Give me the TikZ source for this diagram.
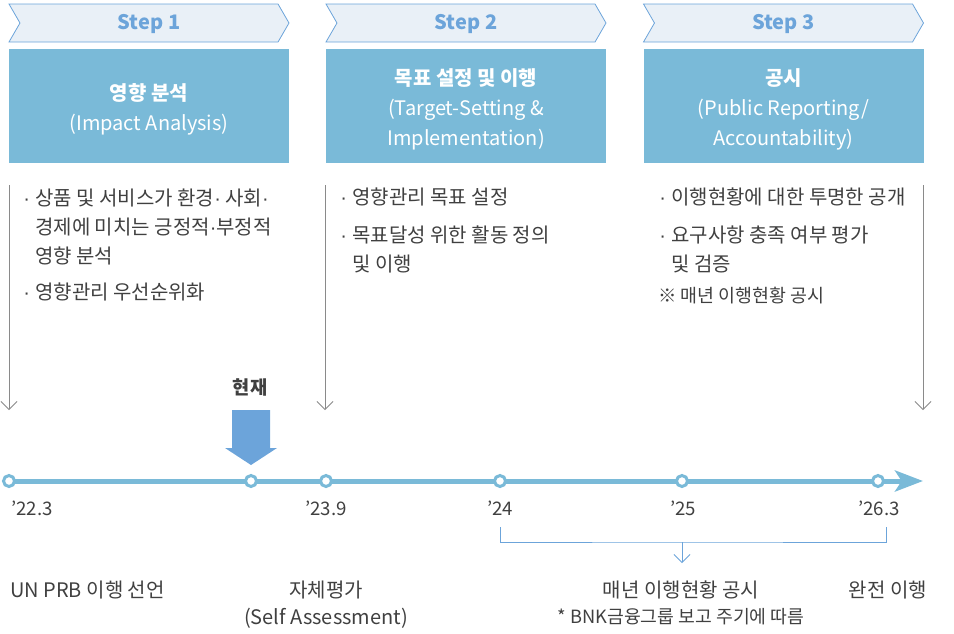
\documentclass[tikz,border=0pt]{standalone}
\usepackage{fontspec}
\setmainfont{Noto Sans CJK KR}
\newfontfamily\dotfont{Liberation Sans}
\usetikzlibrary{arrows.meta,shapes.symbols,backgrounds,positioning}
\definecolor{PRBBlue}{HTML}{7ABAD8}
\definecolor{PRBSky}{HTML}{6CA4DA}
\definecolor{PRBPale}{HTML}{E9F0F7}
\definecolor{PRBText}{HTML}{404040}
\definecolor{PRBGray}{HTML}{8A8A8A}
\newcommand{\md}{{\dotfont ·}}
\newcommand{\bul}{\makebox[9pt][l]{\md}}
\newcommand{\ind}{\hspace*{9pt}}

\begin{document}
\begin{tikzpicture}[
    x=0.75pt,y=-0.75pt,
    stepbar/.style={signal,signal from=west,signal to=east,signal pointer angle=120,
      draw=PRBSky,fill=PRBPale,line width=0.6pt,minimum width=210pt,
      minimum height=28.5pt,inner sep=0pt,text=PRBSky,text height=10pt,
      text depth=0pt,font=\fontsize{15}{18}\selectfont\bfseries},
    stagebox/.style={rectangle,fill=PRBBlue,minimum width=210pt,
      minimum height=85.5pt,inner sep=0pt},
    stagetext/.style={inner sep=0pt,align=center,text=white,yshift=-2.6pt,
      font=\fontsize{15}{22.5}\selectfont},
    item/.style={anchor=base west,inner sep=0pt,align=left,text=PRBText,
      font=\fontsize{15}{21.75}\selectfont},
    note/.style={anchor=base,inner sep=0pt,align=center,text=PRBText,
      font=\fontsize{15}{20}\selectfont},
    date/.style={anchor=base,inner sep=0pt,text=PRBText,
      font=\fontsize{14}{18}\selectfont},
    dot/.style={circle,draw=PRBBlue,line width=2.25pt,fill=white,
      minimum size=8.25pt,inner sep=0pt},
    flow/.style={-{Straight Barb[length=6pt,width=12pt]},color=PRBGray,line width=0.6pt},
    tline/.style={-{Stealth[length=21pt,width=15.75pt,inset=5pt]},color=PRBBlue,
      line width=3.75pt}
  ]
  \useasboundingbox (0,0) rectangle (954,633);

  % steps
  \node[stepbar] (s1) at (149,23) {Step 1};
  \node[stepbar] (s2) at (466,23) {Step 2};
  \node[stepbar] (s3) at (783.5,23) {Step 3};

  \node[stagebox] (b1) at (149,106) {};
  \node[stagebox] (b2) at (466,106) {};
  \node[stagebox] (b3) at (783.5,106) {};
  \node[stagetext] (b1t) at (b1) {\textbf{영향 분석}\\(Impact Analysis)};
  \node[stagetext] (b2t) at (b2)
    {\textbf{목표 설정 및 이행}\\(Target-Setting \&\\Implementation)};
  \node[stagetext] (b3t) at (b3) {\textbf{공시}\\(Public Reporting/\\Accountability)};

  \node[item] (i11) at (23,263)
    {\bul 상품 및 서비스가 환경\md{} 사회\md\\\ind 경제에 미치는 긍정적\md 부정적\\\ind 영향 분석};
  \node[item] (i12) at (23,299) {\bul 영향관리 우선순위화};
  \node[item] (i21) at (340,204) {\bul 영향관리 목표 설정};
  \node[item] (i22) at (340,271) {\bul 목표달성 위한 활동 정의\\\ind 및 이행};
  \node[item] (i31) at (659,204) {\bul 이행현황에 대한 투명한 공개};
  \node[item] (i32) at (659,271) {\bul 요구사항 충족 여부 평가\\\ind 및 검증};
  \node[item,font=\fontsize{13.8}{16}\selectfont] (i33) at (658,302)
    {※ 매년 이행현황 공시};

  \coordinate (f1a) at (9,185);   \coordinate (f1b) at (9,410);
  \coordinate (f2a) at (325,185); \coordinate (f2b) at (325,410);
  \coordinate (f3a) at (923,185); \coordinate (f3b) at (923,410);
  \draw[flow] (f1a) -- (f1b);
  \draw[flow] (f2a) -- (f2b);
  \draw[flow] (f3a) -- (f3b);

  % now marker
  \node[note,font=\fontsize{14}{16}\selectfont\bfseries] (now) at (250,394) {현재};
  \coordinate (nowtip) at (251,465);
  \fill[PRBSky] (232,410) -- (270,410) -- (270,448) -- (277,448) -- (nowtip)
    -- (225,448) -- (232,448) -- cycle;

  % timeline
  \node[dot] (t1) at (9,481) {};
  \node[dot] (t2) at (251,481) {};
  \node[dot] (t3) at (326,481) {};
  \node[dot] (t4) at (500,481) {};
  \node[dot] (t5) at (682,481) {};
  \node[dot] (t6) at (878,481) {};
  \coordinate (tend) at (923,481);
  \begin{scope}[on background layer]
    \draw[tline] (t1.center) -- (tend);
  \end{scope}

  \node[date,anchor=base west] (d1) at (11,515) {’22.3};
  \node[date] (d3) at (326,515) {’23.9};
  \node[date] (d4) at (500,515) {’24};
  \node[date] (d5) at (683,515) {’25};
  \node[date] (d6) at (879,515) {’26.3};

  % yearly bracket
  \coordinate (k1) at (500,527);
  \coordinate (k2) at (886,527);
  \coordinate (kmid) at (682,542);
  \coordinate (kend) at (682,563);
  \draw[PRBSky,line width=0.6pt] (k1) |- (kmid) -| (k2);
  \draw[flow,color=PRBSky] (kmid) -- (kend);

  \node[note,anchor=base west] (l1) at (10,597) {UN PRB 이행 선언};
  \node[note] (l3) at (326,597) {자체평가};
  \node[note] (l3b) at (326,624) {(Self Assessment)};
  \node[note] (l5) at (681,597) {매년 이행현황 공시};
  \node[note,font=\fontsize{13.7}{15}\selectfont] (l5b) at (681,623)
    {* BNK금융그룹 보고 주기에 따름};
  \node[note] (l6) at (888,597) {완전 이행};
\end{tikzpicture}
\end{document}
